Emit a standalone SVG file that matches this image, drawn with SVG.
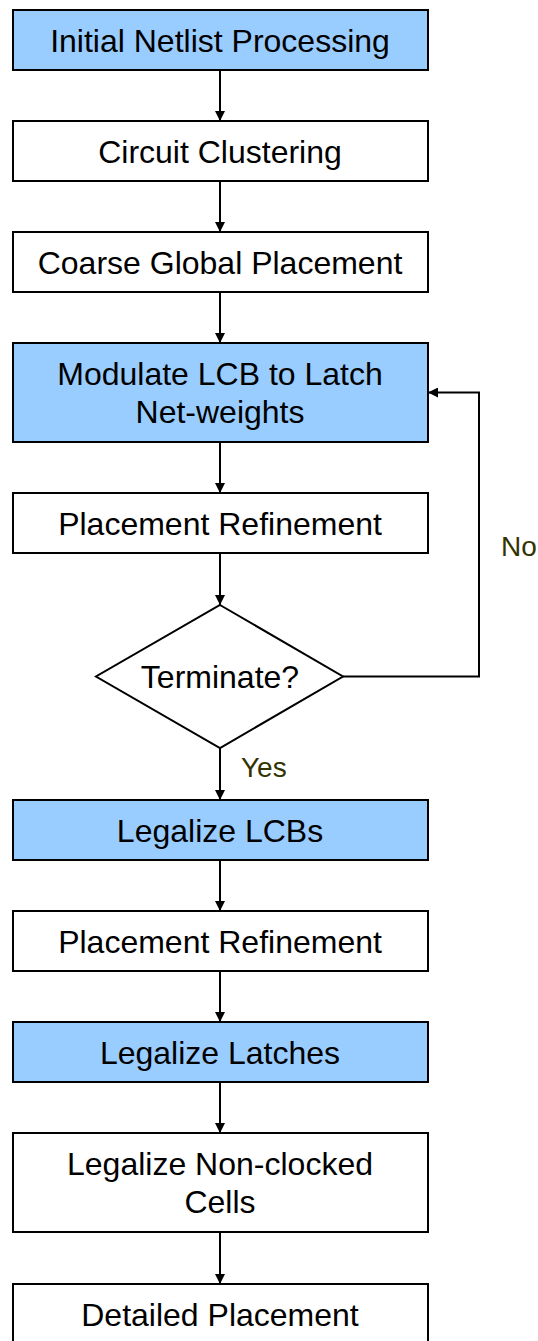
<svg xmlns="http://www.w3.org/2000/svg" width="538" height="1341" viewBox="0 0 538 1341">
  <style>
    .box { stroke: #000; stroke-width: 2; fill: #fff; }
    .hl { fill: #99ccff; }
    .lbl { font-family: "Liberation Sans", Arial, sans-serif; font-size: 32px; fill: #000; text-anchor: middle; }
    .cond { font-family: "Liberation Sans", Arial, sans-serif; font-size: 28px; fill: #333300; }
    .edge { stroke: #000; stroke-width: 2; fill: none; }
  </style>
  <defs>
    <marker id="ah" viewBox="0 0 10 10" refX="10" refY="5" markerWidth="10" markerHeight="10" markerUnits="userSpaceOnUse" orient="auto">
      <path d="M0,0 L10,5 L0,10 Z" fill="#000"/>
    </marker>
  </defs>

  <g id="connectors">
    <line class="edge" x1="220" y1="70" x2="220" y2="121" marker-end="url(#ah)"/>
    <line class="edge" x1="220" y1="181" x2="220" y2="232" marker-end="url(#ah)"/>
    <line class="edge" x1="220" y1="292" x2="220" y2="343" marker-end="url(#ah)"/>
    <line class="edge" x1="220" y1="442" x2="220" y2="493" marker-end="url(#ah)"/>
    <line class="edge" x1="220" y1="553" x2="220" y2="605" marker-end="url(#ah)"/>
    <line class="edge" x1="220" y1="748" x2="220" y2="800" marker-end="url(#ah)"/>
    <line class="edge" x1="220" y1="860" x2="220" y2="911" marker-end="url(#ah)"/>
    <line class="edge" x1="220" y1="971" x2="220" y2="1022" marker-end="url(#ah)"/>
    <line class="edge" x1="220" y1="1082" x2="220" y2="1133" marker-end="url(#ah)"/>
    <line class="edge" x1="220" y1="1232" x2="220" y2="1284" marker-end="url(#ah)"/>
    <polyline class="edge" points="343,676.5 479,676.5 479,392.5 428,392.5" marker-end="url(#ah)"/>
    <text class="cond" x="241" y="777">Yes</text>
    <text class="cond" x="501" y="556">No</text>
  </g>

  <g id="n1">
    <rect class="box hl" x="13" y="10" width="415" height="60"/>
    <text class="lbl" x="220" y="52">Initial Netlist Processing</text>
  </g>
  <g id="n2">
    <rect class="box" x="13" y="121" width="415" height="60"/>
    <text class="lbl" x="220" y="163">Circuit Clustering</text>
  </g>
  <g id="n3">
    <rect class="box" x="13" y="232" width="415" height="60"/>
    <text class="lbl" x="220" y="274">Coarse Global Placement</text>
  </g>
  <g id="n4">
    <rect class="box hl" x="13" y="343" width="415" height="99"/>
    <text class="lbl" x="220" y="385">Modulate LCB to Latch</text>
    <text class="lbl" x="220" y="423">Net-weights</text>
  </g>
  <g id="n5">
    <rect class="box" x="13" y="493" width="415" height="60"/>
    <text class="lbl" x="220" y="535">Placement Refinement</text>
  </g>
  <g id="n6">
    <polygon class="box" points="220,605 343,676.5 220,748 96,676.5"/>
    <text class="lbl" x="220" y="688">Terminate?</text>
  </g>
  <g id="n7">
    <rect class="box hl" x="13" y="800" width="415" height="60"/>
    <text class="lbl" x="220" y="842">Legalize LCBs</text>
  </g>
  <g id="n8">
    <rect class="box" x="13" y="911" width="415" height="60"/>
    <text class="lbl" x="220" y="953">Placement Refinement</text>
  </g>
  <g id="n9">
    <rect class="box hl" x="13" y="1022" width="415" height="60"/>
    <text class="lbl" x="220" y="1064">Legalize Latches</text>
  </g>
  <g id="n10">
    <rect class="box" x="13" y="1133" width="415" height="99"/>
    <text class="lbl" x="220" y="1175">Legalize Non-clocked</text>
    <text class="lbl" x="220" y="1213">Cells</text>
  </g>
  <g id="n11">
    <rect class="box" x="13" y="1284" width="415" height="70"/>
    <text class="lbl" x="220" y="1326">Detailed Placement</text>
  </g>
</svg>
